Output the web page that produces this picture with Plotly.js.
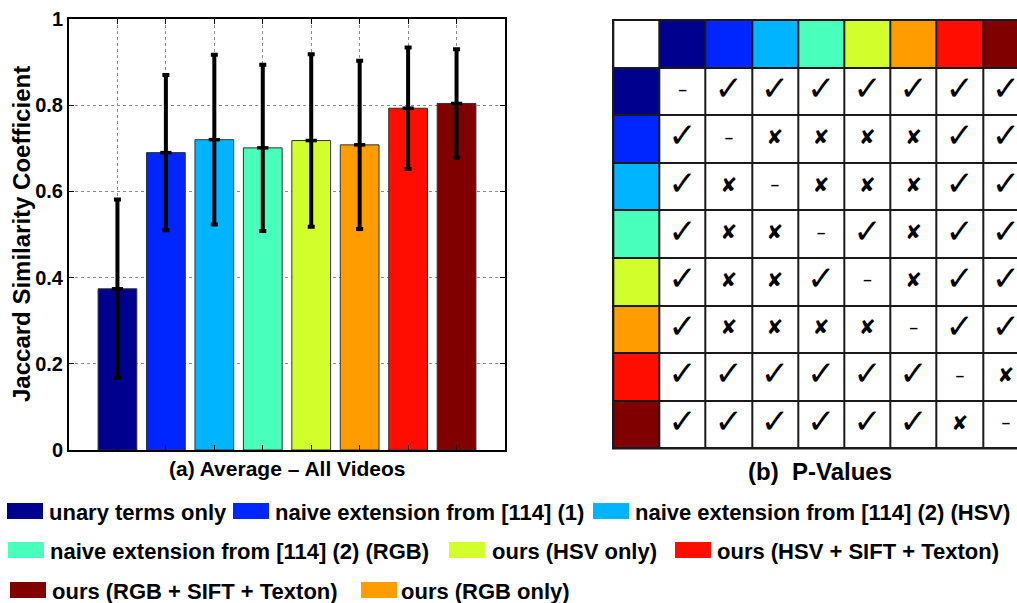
<!DOCTYPE html>
<html>
<head>
<meta charset="utf-8">
<script src="https://cdn.plot.ly/plotly-3.0.1.min.js"></script>
<style>
  html, body { margin: 0; padding: 0; background: #ffffff; }
  #chart { width: 1017px; height: 603px; }
</style>
</head>
<body>
<div id="chart"></div>
<script>
// ---- data ----
const methods = [
  'unary terms only',
  'naive extension from [114] (1)',
  'naive extension from [114] (2) (HSV)',
  'naive extension from [114] (2) (RGB)',
  'ours (HSV only)',
  'ours (RGB only)',
  'ours (HSV + SIFT + Texton)',
  'ours (RGB + SIFT + Texton)'
];
const jaccardMean = [0.374, 0.690, 0.720, 0.701, 0.718, 0.708, 0.793, 0.804];
const jaccardStd  = [0.207, 0.180, 0.197, 0.193, 0.200, 0.195, 0.141, 0.126];
const methodColors = ['#00008f', '#0026ff', '#00b4ff', '#48ffbc', '#d2ff2c', '#ff9c00', '#ff0e00', '#800000'];
const yTickVals = [0, 0.2, 0.4, 0.6, 0.8, 1];
const yTickText = ['0', '0.2', '0.4', '0.6', '0.8', '1'];

// pairwise significance: 'c' = significant, 'x' = not significant, '-' = same method
const pValueMarks = [
  ['-', 'c', 'c', 'c', 'c', 'c', 'c', 'c'],
  ['c', '-', 'x', 'x', 'x', 'x', 'c', 'c'],
  ['c', 'x', '-', 'x', 'x', 'x', 'c', 'c'],
  ['c', 'x', 'x', '-', 'c', 'x', 'c', 'c'],
  ['c', 'x', 'x', 'c', '-', 'x', 'c', 'c'],
  ['c', 'x', 'x', 'x', 'x', '-', 'c', 'c'],
  ['c', 'c', 'c', 'c', 'c', 'c', '-', 'x'],
  ['c', 'c', 'c', 'c', 'c', 'c', 'x', '-']
];

// legend entries in display order (indices into methods)
const legendOrder = [0, 1, 2, 3, 4, 6, 7, 5];

// ---- layout helpers (page pixels -> paper fractions) ----
const W = 1017, H = 603;
const px = x => x / W;
const py = y => 1 - y / H;

const FONT = 'Liberation Sans, Arial, Helvetica, sans-serif';
const SYM_FONT = 'DejaVu Sans, sans-serif';

// legend slot placement: [swatch left, text left, row centre] in page pixels
const legendSlots = [
  [7, 49, 511], [233, 275, 511], [593, 635, 511],
  [8, 50, 550], [449, 492, 550], [675, 717, 550],
  [10, 52, 590], [361, 401, 590]
];

const cats = methods.map((_, i) => i);

// ---- bar chart ----
const barTrace = {
  type: 'bar', x: cats, y: jaccardMean, width: 0.8,
  marker: { color: methodColors, line: { color: '#333333', width: 1 } },
  xaxis: 'x', yaxis: 'y', hoverinfo: 'skip', showlegend: false
};
const errTrace = {
  type: 'scatter', mode: 'markers', x: cats, y: jaccardMean,
  marker: { symbol: 'line-ew-open', size: 8, color: '#000', line: { color: '#000', width: 3.5 } },
  error_y: { type: 'data', array: jaccardStd, visible: true, color: '#000000', thickness: 4, width: 3.5 },
  xaxis: 'x', yaxis: 'y', hoverinfo: 'skip', showlegend: false
};

// ---- p-value table ----
const nT = methods.length + 1;
const tableZ = [];
for (let r = 0; r < nT; r++) {
  const row = [];
  for (let c = 0; c < nT; c++) {
    if (r === 0 && c > 0) row.push(c);
    else if (c === 0 && r > 0) row.push(r);
    else row.push(0);
  }
  tableZ.push(row);
}
const tableColors = ['#ffffff'].concat(methodColors);
const stepScale = [];
tableColors.forEach((col, i) => {
  const lo = Math.max(0, (i - 0.5) / (tableColors.length - 1));
  const hi = Math.min(1, (i + 0.5) / (tableColors.length - 1));
  stepScale.push([lo, col], [hi, col]);
});
const tableTrace = {
  type: 'heatmap', z: tableZ, zmin: 0, zmax: tableColors.length - 1,
  colorscale: stepScale, showscale: false, xgap: 2, ygap: 2,
  xaxis: 'x2', yaxis: 'y2', hoverinfo: 'skip'
};

function marksOf(kind) {
  const xs = [], ys = [];
  pValueMarks.forEach((row, r) => row.forEach((m, c) => {
    if (m === kind) { xs.push(c + 1); ys.push(r + 1); }
  }));
  return { xs, ys };
}
const glyphs = {
  c: ['\u2713', 34, SYM_FONT],
  x: ['\u2718', 20, SYM_FONT],
  '-': ['<b>\u2013</b>', 15, FONT]
};
const markTraces = Object.keys(glyphs).map(k => {
  const p = marksOf(k);
  return {
    type: 'scatter', mode: 'text', x: p.xs, y: p.ys,
    text: p.xs.map(() => glyphs[k][0]), textposition: 'middle center',
    textfont: { family: glyphs[k][2], size: glyphs[k][1], color: '#000' },
    xaxis: 'x2', yaxis: 'y2', hoverinfo: 'skip', showlegend: false
  };
});

// ---- shapes & annotations ----
const shapes = [
  // dark backing that shows through the heatmap gaps as the table grid
  { type: 'rect', xref: 'paper', yref: 'paper', x0: px(612), x1: px(1017), y0: py(449.5), y1: py(19),
    fillcolor: '#1a1a1a', line: { width: 0 }, layer: 'below' }
];
const annotations = [
  { xref: 'paper', yref: 'paper', x: px(21), y: py(234), text: '<b>Jaccard Similarity Coefficient</b>',
    textangle: -90, showarrow: false, xanchor: 'center', yanchor: 'middle',
    font: { family: FONT, size: 24, color: '#000' } },
  { xref: 'paper', yref: 'paper', x: px(287), y: py(468), text: '<b>(a) Average \u2013 All Videos</b>',
    showarrow: false, xanchor: 'center', yanchor: 'middle',
    font: { family: FONT, size: 21, color: '#000' } },
  { xref: 'paper', yref: 'paper', x: px(820), y: py(471), text: '<b>(b) \u00a0P-Values</b>',
    showarrow: false, xanchor: 'center', yanchor: 'middle',
    font: { family: FONT, size: 24, color: '#000' } }
];
legendOrder.forEach((mi, k) => {
  const [sx, tx, cy] = legendSlots[k];
  shapes.push({ type: 'rect', xref: 'paper', yref: 'paper',
    x0: px(sx), x1: px(sx + 36), y0: py(cy + 8), y1: py(cy - 8),
    fillcolor: methodColors[mi], line: { width: 0 } });
  annotations.push({ xref: 'paper', yref: 'paper', x: px(tx - 2), y: py(cy + 1),
    text: '<b>' + methods[mi] + '</b>', showarrow: false, xanchor: 'left', yanchor: 'middle',
    font: { family: FONT, size: 22, color: '#000' } });
});

const axisCommon = {
  showline: true, linecolor: '#000', linewidth: 2, mirror: 'ticks',
  ticks: 'inside', ticklen: 5, tickwidth: 1, tickcolor: '#000',
  showgrid: true, gridcolor: '#8c8c8c', griddash: 'dot', gridwidth: 1, zeroline: false
};

const layout = {
  width: W, height: H, autosize: false,
  margin: { l: 0, r: 0, t: 0, b: 0, pad: 0 },
  paper_bgcolor: '#ffffff', plot_bgcolor: '#ffffff',
  font: { family: FONT, size: 18, color: '#000' },
  showlegend: false,
  xaxis: Object.assign({}, axisCommon, {
    domain: [px(69), px(505)], range: [-1, methods.length], tickvals: cats, showticklabels: false,
    fixedrange: true
  }),
  yaxis: Object.assign({}, axisCommon, {
    domain: [py(450), py(19)], range: [0, 1],
    tickvals: yTickVals, ticktext: yTickText.map(t => '<b>' + t + '</b>'),
    tickfont: { family: FONT, size: 20, color: '#000' }, ticklabelstandoff: 0,
    fixedrange: true
  }),
  xaxis2: {
    domain: [px(613.3), 1], range: [-0.5, -0.5 + (W - 613.3) / 46.2], visible: false, fixedrange: true
  },
  yaxis2: {
    domain: [py(448.3), py(20)], range: [nT - 0.5, -0.5], visible: false, fixedrange: true
  },
  shapes: shapes,
  annotations: annotations
};

Plotly.newPlot('chart', [barTrace, errTrace, tableTrace].concat(markTraces), layout,
  { staticPlot: true, displayModeBar: false });
</script>
</body>
</html>
